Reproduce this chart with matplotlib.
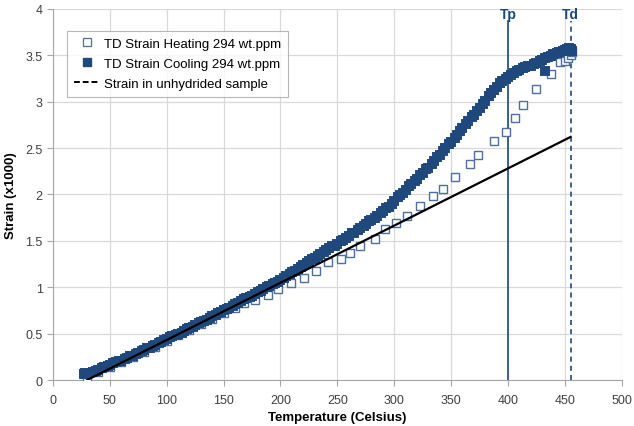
import numpy as np
import matplotlib
matplotlib.use("Agg")
import matplotlib.pyplot as plt
from matplotlib.lines import Line2D

plt.rcParams['font.family'] = ['Liberation Sans', 'DejaVu Sans']

# TD strain, heating (sparse open squares)
heat_temp = [30, 40, 50, 60, 70, 80, 90, 100, 110, 120, 130, 140, 150, 160, 168,
             178, 189, 198, 209, 221, 231, 242, 253, 261, 270, 283, 292, 302, 311,
             323, 334, 343, 353, 367, 374, 388, 398, 406, 413, 425, 438, 446, 450,
             453, 455, 456]
heat_strain = [0.00, 0.09, 0.14, 0.19, 0.25, 0.30, 0.36, 0.42, 0.48, 0.54, 0.60,
               0.66, 0.72, 0.78, 0.83, 0.86, 0.92, 0.98, 1.05, 1.10, 1.18, 1.27,
               1.30, 1.37, 1.44, 1.52, 1.63, 1.69, 1.77, 1.88, 1.98, 2.06, 2.19,
               2.33, 2.43, 2.58, 2.67, 2.82, 2.96, 3.14, 3.30, 3.43, 3.44, 3.47,
               3.50, 3.54]

# TD strain, cooling (dense filled squares)
cool_temp = [27, 28, 30, 32, 35, 38, 40, 43, 45, 48, 50, 53, 55, 58, 60, 63, 65,
             68, 70, 73, 75, 78, 80, 83, 85, 88, 90, 93, 95, 98, 100, 103, 105,
             108, 110, 113, 115, 118, 120, 123, 125, 128, 130, 133, 135, 138, 140,
             143, 145, 148, 150, 153, 155, 158, 160, 163, 165, 168, 170, 173, 175,
             178, 180, 183, 185, 188, 190, 193, 195, 198, 200, 203, 205, 208, 210,
             213, 215, 218, 220, 223, 225, 228, 230, 233, 235, 238, 240, 243, 245,
             248, 250, 253, 255, 258, 260, 263, 265, 268, 270, 273, 275, 278, 280,
             283, 285, 288, 290, 293, 295, 298, 300, 303, 305, 308, 310, 313, 315,
             318, 320, 323, 325, 328, 330, 333, 335, 338, 340, 343, 345, 348, 350,
             353, 355, 358, 360, 363, 365, 368, 370, 373, 375, 378, 380, 383, 385,
             388, 390, 393, 395, 398, 400, 403, 405, 408, 410, 413, 415, 418, 420,
             423, 425, 428, 430, 433, 435, 438, 440, 443, 445, 448, 450, 452, 453,
             454, 455, 456, 433]
cool_strain = [0.06, 0.08, 0.07, 0.08, 0.09, 0.10, 0.11, 0.13, 0.14, 0.15, 0.16,
               0.18, 0.19, 0.21, 0.21, 0.23, 0.24, 0.26, 0.26, 0.28, 0.29, 0.31,
               0.32, 0.34, 0.35, 0.37, 0.38, 0.40, 0.41, 0.43, 0.44, 0.46, 0.47,
               0.48, 0.50, 0.51, 0.53, 0.55, 0.56, 0.57, 0.59, 0.61, 0.62, 0.64,
               0.65, 0.67, 0.69, 0.70, 0.72, 0.73, 0.75, 0.77, 0.78, 0.80, 0.82,
               0.83, 0.85, 0.87, 0.88, 0.90, 0.91, 0.93, 0.95, 0.96, 0.98, 1.00,
               1.01, 1.03, 1.05, 1.06, 1.08, 1.10, 1.12, 1.14, 1.16, 1.18, 1.20,
               1.22, 1.24, 1.26, 1.28, 1.30, 1.32, 1.34, 1.36, 1.38, 1.40, 1.42,
               1.44, 1.45, 1.47, 1.50, 1.51, 1.53, 1.55, 1.58, 1.59, 1.62, 1.64,
               1.66, 1.68, 1.71, 1.73, 1.75, 1.77, 1.80, 1.82, 1.85, 1.87, 1.90,
               1.93, 1.97, 1.99, 2.02, 2.05, 2.09, 2.11, 2.14, 2.17, 2.21, 2.23,
               2.27, 2.29, 2.33, 2.36, 2.40, 2.43, 2.47, 2.50, 2.54, 2.57, 2.61,
               2.64, 2.68, 2.72, 2.76, 2.79, 2.83, 2.86, 2.90, 2.93, 2.98, 3.01,
               3.06, 3.09, 3.13, 3.16, 3.20, 3.22, 3.25, 3.27, 3.29, 3.31, 3.33,
               3.34, 3.36, 3.37, 3.38, 3.39, 3.41, 3.42, 3.44, 3.45, 3.47, 3.48,
               3.49, 3.51, 3.52, 3.54, 3.55, 3.56, 3.57, 3.55, 3.58, 3.57, 3.55,
               3.33]

# Strain in unhydrided sample
ref_temp = [30, 455]
ref_strain = [0.0, 2.62]

Tp = 400
Td = 455

dark_blue = '#1F497D'
open_blue = '#4F6F9F'

fig = plt.figure(figsize=(6.34, 4.27), dpi=100)
ax = fig.add_axes([0.0836, 0.1077, 0.897, 0.869])

ax.plot(heat_temp, heat_strain, linestyle='none', marker='s', markersize=5.6,
        markerfacecolor='white', markeredgecolor=open_blue, markeredgewidth=1.0, zorder=3)
ax.plot(cool_temp, cool_strain, linestyle='none', marker='s', markersize=6.0,
        markerfacecolor=dark_blue, markeredgecolor=dark_blue, markeredgewidth=1.4, zorder=4)
ax.plot(ref_temp, ref_strain, color='black', linewidth=1.6, zorder=5)

# transition temperatures
ax.plot([Tp, Tp], [0, 3.87], color=dark_blue, linewidth=1.2, zorder=2)
ax.plot([Td, Td], [0, 3.87], color=dark_blue, linewidth=1.2, linestyle=(0, (3, 2.5)), zorder=2)
ax.text(Tp, 3.87, 'Tp', color=dark_blue, fontsize=10, fontweight='bold', ha='center', va='bottom')
ax.text(Td, 3.87, 'Td', color=dark_blue, fontsize=10, fontweight='bold', ha='center', va='bottom')

ax.set_xlim(0, 500)
ax.set_ylim(0, 4)
ax.set_xticks(np.arange(0, 501, 50))
ax.set_yticks(np.arange(0, 4.01, 0.5))
ax.set_yticklabels(['0', '0.5', '1', '1.5', '2', '2.5', '3', '3.5', '4'])
ax.grid(True, color='#D9D9D9', linewidth=0.9)
ax.set_axisbelow(True)
for s in ['top', 'right']:
    ax.spines[s].set_visible(False)
for s in ['left', 'bottom']:
    ax.spines[s].set_color('#A6A6A6')
ax.tick_params(colors='#A6A6A6', labelcolor='#404040', labelsize=9, length=4)
ax.tick_params(axis='x', pad=6)

ax.set_xlabel('Temperature (Celsius)', fontsize=9.5, fontweight='bold', labelpad=4)
ax.set_ylabel('Strain (x1000)', fontsize=9.5, fontweight='bold', labelpad=6)

handles = [
    Line2D([], [], linestyle='none', marker='s', markersize=5.5, markerfacecolor='white',
           markeredgecolor=open_blue, markeredgewidth=0.9),
    Line2D([], [], linestyle='none', marker='s', markersize=5.5, markerfacecolor=dark_blue,
           markeredgecolor=dark_blue),
    Line2D([], [], color='black', linestyle=(0, (3, 1.5)), linewidth=1.4),
]
labels = ['TD Strain Heating 294 wt.ppm', 'TD Strain Cooling 294 wt.ppm',
          'Strain in unhydrided sample']
leg = ax.legend(handles, labels, loc='upper left', bbox_to_anchor=(0.0245, 0.941),
                fontsize=9.5, frameon=True, fancybox=False, edgecolor='#A6A6A6',
                handlelength=2.0, handletextpad=0.3, borderpad=0.5, labelspacing=0.6,
                borderaxespad=0)
leg.get_frame().set_linewidth(0.8)

plt.savefig('out.png', dpi=100)
